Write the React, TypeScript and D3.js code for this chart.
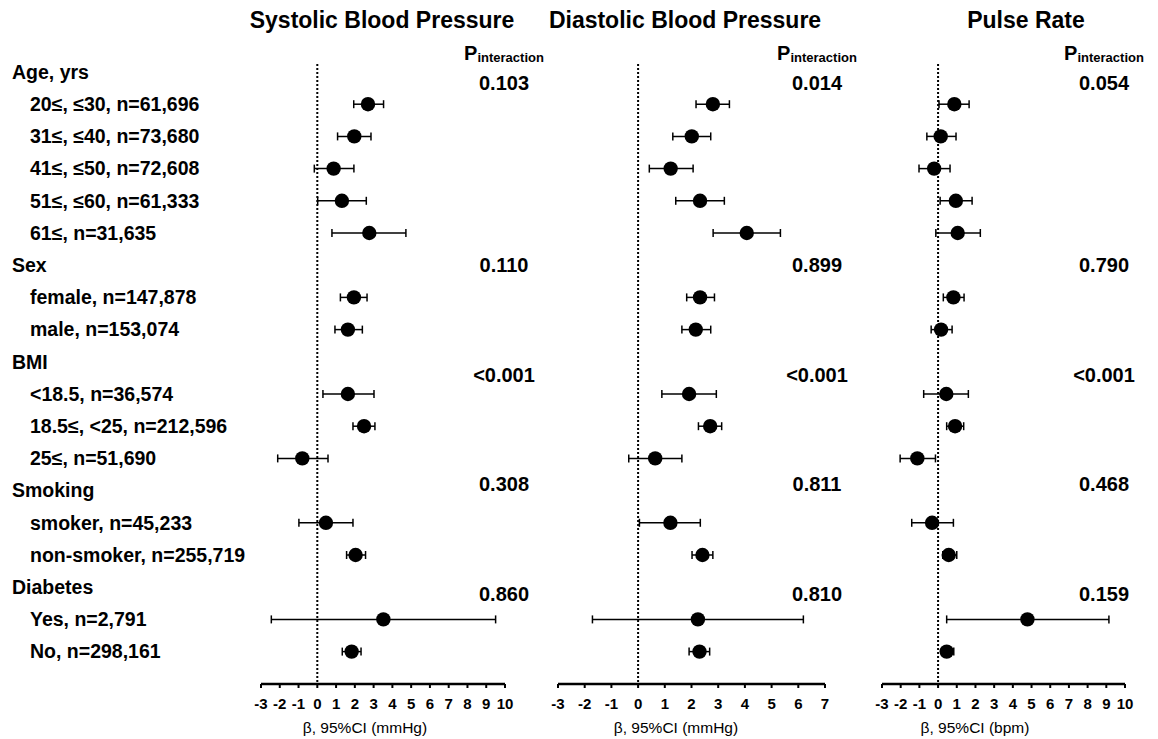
import React from "react";
import * as d3 from "d3";

// ---------- data ----------
const groups = ["Age, yrs", "Sex", "BMI", "Smoking", "Diabetes"];
const subgroups = [
  "20≤, ≤30, n=61,696",
  "31≤, ≤40, n=73,680",
  "41≤, ≤50, n=72,608",
  "51≤, ≤60, n=61,333",
  "61≤, n=31,635",
  "female, n=147,878",
  "male, n=153,074",
  "<18.5, n=36,574",
  "18.5≤, <25, n=212,596",
  "25≤, n=51,690",
  "smoker, n=45,233",
  "non-smoker, n=255,719",
  "Yes, n=2,791",
  "No, n=298,161",
];
const subgroupGroup = [0, 0, 0, 0, 0, 1, 1, 2, 2, 2, 3, 3, 4, 4];

const sbpBeta = [2.7, 1.97, 0.87, 1.31, 2.77, 1.95, 1.63, 1.63, 2.49, -0.8, 0.46, 2.04, 3.52, 1.83];
const sbpLo = [1.94, 1.08, -0.16, 0.02, 0.78, 1.23, 0.94, 0.3, 1.9, -2.11, -0.98, 1.56, -2.45, 1.33];
const sbpHi = [3.53, 2.86, 1.95, 2.61, 4.72, 2.65, 2.4, 3.02, 3.07, 0.57, 1.9, 2.57, 9.5, 2.33];

const dbpBeta = [2.8, 2.01, 1.22, 2.32, 4.07, 2.32, 2.16, 1.91, 2.7, 0.64, 1.21, 2.41, 2.24, 2.3];
const dbpLo = [2.17, 1.3, 0.42, 1.41, 2.81, 1.82, 1.64, 0.89, 2.26, -0.35, 0.05, 2.02, -1.71, 1.91];
const dbpHi = [3.42, 2.72, 2.06, 3.23, 5.33, 2.86, 2.72, 2.93, 3.13, 1.64, 2.33, 2.8, 6.19, 2.68];

const prBeta = [0.87, 0.14, -0.21, 0.95, 1.05, 0.82, 0.16, 0.44, 0.91, -1.11, -0.32, 0.57, 4.78, 0.46];
const prLo = [0.05, -0.6, -1.02, 0.11, -0.12, 0.28, -0.37, -0.77, 0.46, -2.03, -1.41, 0.25, 0.46, 0.18];
const prHi = [1.66, 0.96, 0.64, 1.82, 2.26, 1.39, 0.75, 1.62, 1.37, -0.14, 0.82, 1.0, 9.14, 0.84];

const sbpP = ["0.103", "0.110", "<0.001", "0.308", "0.860"];
const dbpP = ["0.014", "0.899", "<0.001", "0.811", "0.810"];
const prP = ["0.054", "0.790", "<0.001", "0.468", "0.159"];

const panelTitles = ["Systolic Blood Pressure", "Diastolic Blood Pressure", "Pulse Rate"];
const axisTitles = ["β, 95%CI (mmHg)", "β, 95%CI (mmHg)", "β, 95%CI (bpm)"];
const domains: [number, number][] = [[-3, 10], [-3, 7], [-3, 10]];

// ---------- layout ----------
const W = 1158;
const H = 739;
const FONT = "'Liberation Sans', Arial, Helvetica, sans-serif";
const rowY0 = 72;
const rowStep = 32.2;
const axisY = 684;
const ranges: [number, number][] = [[261, 505], [558, 825], [882, 1125]];
const titleX = [382, 685, 1026];
const axisTitleX = [365, 676, 975];
const pX = [504, 817, 1104];
// vertical position of P-values, in row units
const pRowPos = [0.34, 6.0, 9.42, 12.78, 16.2];

type Row = { label: string; header: boolean; sub: number };
const rows: Row[] = [];
groups.forEach((g, gi) => {
  rows.push({ label: g, header: true, sub: -1 });
  subgroupGroup.forEach((sg, si) => {
    if (sg === gi) rows.push({ label: subgroups[si], header: false, sub: si });
  });
});

const yScale = d3
  .scaleLinear()
  .domain([0, rows.length - 1])
  .range([rowY0, rowY0 + rowStep * (rows.length - 1)]);

const panels = [
  { beta: sbpBeta, lo: sbpLo, hi: sbpHi, p: sbpP },
  { beta: dbpBeta, lo: dbpLo, hi: dbpHi, p: dbpP },
  { beta: prBeta, lo: prLo, hi: prHi, p: prP },
];

function Panel({ idx }: { idx: number }) {
  const pd = panels[idx];
  const x = d3.scaleLinear().domain(domains[idx]).range(ranges[idx]);
  const ticks = d3.range(domains[idx][0], domains[idx][1] + 1);
  return (
    <g>
      <text
        x={titleX[idx]}
        y={28}
        textAnchor="middle"
        fontSize={23}
        fontWeight="bold"
        fontFamily={FONT}
      >
        {panelTitles[idx]}
      </text>
      {/* P interaction header */}
      <text x={pX[idx]} y={60} textAnchor="middle" fontFamily={FONT} fontWeight="bold">
        <tspan fontSize={20}>P</tspan>
        <tspan fontSize={13} dy={2}>
          interaction
        </tspan>
      </text>
      {pd.p.map((p, i) => (
        <text
          key={i}
          x={pX[idx]}
          y={yScale(pRowPos[i]) + 7}
          textAnchor="middle"
          fontSize={20}
          fontWeight="bold"
          fontFamily={FONT}
        >
          {p}
        </text>
      ))}
      {/* zero line */}
      <line
        x1={x(0)}
        x2={x(0)}
        y1={64}
        y2={axisY}
        stroke="#000"
        strokeWidth={2}
        strokeDasharray="2,2"
      />
      {/* CIs and points */}
      {rows.map((r, ri) =>
        r.header ? null : (
          <g key={ri}>
            <line
              x1={x(pd.lo[r.sub])}
              x2={x(pd.hi[r.sub])}
              y1={yScale(ri)}
              y2={yScale(ri)}
              stroke="#000"
              strokeWidth={1.5}
            />
            <line
              x1={x(pd.lo[r.sub])}
              x2={x(pd.lo[r.sub])}
              y1={yScale(ri) - 4}
              y2={yScale(ri) + 4}
              stroke="#000"
              strokeWidth={1.5}
            />
            <line
              x1={x(pd.hi[r.sub])}
              x2={x(pd.hi[r.sub])}
              y1={yScale(ri) - 4}
              y2={yScale(ri) + 4}
              stroke="#000"
              strokeWidth={1.5}
            />
            <circle cx={x(pd.beta[r.sub])} cy={yScale(ri)} r={7.2} fill="#000" />
          </g>
        )
      )}
      {/* axis */}
      <line
        x1={x(domains[idx][0])}
        x2={x(domains[idx][1])}
        y1={axisY}
        y2={axisY}
        stroke="#000"
        strokeWidth={2.5}
      />
      {ticks.map((t) => (
        <g key={t}>
          <line x1={x(t)} x2={x(t)} y1={axisY} y2={axisY + 4} stroke="#000" strokeWidth={2} />
          <text
            x={x(t)}
            y={709}
            textAnchor="middle"
            fontSize={15}
            fontWeight="bold"
            fontFamily={FONT}
          >
            {t}
          </text>
        </g>
      ))}
      <text x={axisTitleX[idx]} y={733} textAnchor="middle" fontSize={15.5} fontFamily={FONT}>
        {axisTitles[idx]}
      </text>
    </g>
  );
}

export default function App() {
  return (
    <svg
      width={W}
      height={H}
      style={{ position: "absolute", left: 0, top: 0, background: "#fff" }}
    >
      <rect width={W} height={H} fill="#fff" />
      {rows.map((r, ri) => (
        <text
          key={ri}
          x={r.header ? 12 : 30}
          y={yScale(ri) + 6.8}
          fontSize={19.5}
          fontWeight="bold"
          fontFamily={FONT}
        >
          {r.label}
        </text>
      ))}
      {[0, 1, 2].map((i) => (
        <Panel key={i} idx={i} />
      ))}
    </svg>
  );
}
